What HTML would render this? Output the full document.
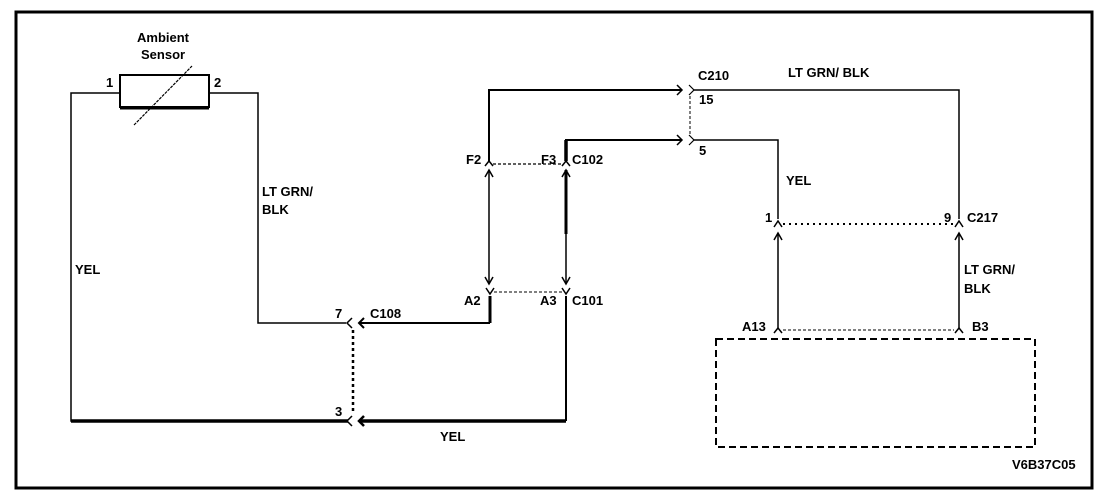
<!DOCTYPE html>
<html><head><meta charset="utf-8"><style>
html,body{margin:0;padding:0;background:#fff;}
svg{display:block;}
text{font-family:"Liberation Sans",sans-serif;font-weight:bold;font-size:13px;fill:#000;}
</style></head><body>
<svg width="1120" height="496" viewBox="0 0 1120 496" xmlns="http://www.w3.org/2000/svg">
<rect x="16" y="12" width="1076" height="476" fill="none" stroke="#000" stroke-width="3"/>
<!-- sensor -->
<rect x="120" y="75" width="89" height="32" fill="none" stroke="#000" stroke-width="2"/>
<line x1="120" y1="108" x2="209" y2="108" stroke="#000" stroke-width="3"/>
<line x1="134" y1="125" x2="192" y2="66" stroke="#000" stroke-width="1.2" stroke-dasharray="3,1"/>
<text x="137" y="42" font-size="12">Ambient</text>
<text x="141" y="59" font-size="12">Sensor</text>
<text x="106" y="87">1</text><text x="214" y="87">2</text>
<!-- wires left -->
<polyline points="120,93 71,93 71,421 348,421" fill="none" stroke="#000" stroke-width="1.5"/>
<line x1="71" y1="421" x2="348" y2="421" stroke="#000" stroke-width="3.5"/>
<polyline points="209,93 258,93 258,323 346,323" fill="none" stroke="#000" stroke-width="1.5"/>
<text x="75" y="274">YEL</text>
<text x="262" y="196">LT GRN/</text><text x="262" y="214">BLK</text>
<!-- C108 -->
<path d="M352,318 L347,323 L352,328" fill="none" stroke="#000" stroke-width="1.5"/>
<path d="M364,318 L359,323 L364,328" fill="none" stroke="#000" stroke-width="2"/>
<line x1="359" y1="323" x2="490" y2="323" stroke="#000" stroke-width="2"/>
<text x="335" y="318">7</text><text x="370" y="318">C108</text>
<line x1="353" y1="330" x2="353" y2="414" stroke="#000" stroke-width="2.5" stroke-dasharray="3,3"/>
<path d="M352,416 L347,421 L352,426" fill="none" stroke="#000" stroke-width="1.5"/>
<path d="M364,416 L359,421 L364,426" fill="none" stroke="#000" stroke-width="2.5"/>
<line x1="359" y1="421" x2="566" y2="421" stroke="#000" stroke-width="3.5"/>
<text x="335" y="416">3</text><text x="440" y="441">YEL</text>
<!-- A2/A3 -->
<line x1="490" y1="296" x2="490" y2="323" stroke="#000" stroke-width="3"/>
<line x1="566" y1="296" x2="566" y2="421" stroke="#000" stroke-width="2"/>
<path d="M486,288 L490,294 L494,288" fill="none" stroke="#000" stroke-width="1.5"/>
<path d="M562,288 L566,294 L570,288" fill="none" stroke="#000" stroke-width="1.5"/>
<line x1="494" y1="292" x2="562" y2="292" stroke="#000" stroke-width="1" stroke-dasharray="3,2"/>
<text x="464" y="305">A2</text><text x="540" y="305">A3</text><text x="572" y="305">C101</text>
<!-- vertical double arrows -->
<line x1="489" y1="170" x2="489" y2="284" stroke="#000" stroke-width="1.5"/>
<path d="M485,177 L489,170 L493,177" fill="none" stroke="#000" stroke-width="1.5"/>
<path d="M485,277 L489,284 L493,277" fill="none" stroke="#000" stroke-width="1.5"/>
<line x1="566" y1="170" x2="566" y2="284" stroke="#000" stroke-width="1.5"/>
<line x1="566" y1="170" x2="566" y2="234" stroke="#000" stroke-width="3"/>
<path d="M562,177 L566,170 L570,177" fill="none" stroke="#000" stroke-width="1.5"/>
<path d="M562,277 L566,284 L570,277" fill="none" stroke="#000" stroke-width="1.5"/>
<!-- F2/F3 -->
<path d="M485,166 L489,161 L493,166" fill="none" stroke="#000" stroke-width="1.5"/>
<path d="M562,166 L566,161 L570,166" fill="none" stroke="#000" stroke-width="1.5"/>
<line x1="493" y1="164" x2="562" y2="164" stroke="#000" stroke-width="1.2" stroke-dasharray="3,2"/>
<text x="466" y="164">F2</text><text x="541" y="164">F3</text><text x="572" y="164">C102</text>
<polyline points="489,161 489,90 681,90" fill="none" stroke="#000" stroke-width="2"/>
<polyline points="566,161 566,140 681,140" fill="none" stroke="#000" stroke-width="2"/>
<line x1="566" y1="140" x2="566" y2="161" stroke="#000" stroke-width="3.5"/>
<path d="M677,85 L682,90 L677,95" fill="none" stroke="#000" stroke-width="1.5"/>
<path d="M677,135 L682,140 L677,145" fill="none" stroke="#000" stroke-width="1.5"/>
<path d="M689,85 L694,90 L689,95" fill="none" stroke="#000" stroke-width="1.2"/>
<path d="M689,135 L694,140 L689,145" fill="none" stroke="#000" stroke-width="1.2"/>
<line x1="690" y1="96" x2="690" y2="134" stroke="#000" stroke-width="1" stroke-dasharray="3,2"/>
<text x="698" y="80" font-weight="normal">C210</text><text x="699" y="104">15</text><text x="699" y="155">5</text>
<!-- right wires -->
<polyline points="694,90 959,90 959,219" fill="none" stroke="#000" stroke-width="1.5"/>
<polyline points="694,140 778,140 778,219" fill="none" stroke="#000" stroke-width="1.5"/>
<text x="788" y="77">LT GRN/ BLK</text>
<text x="786" y="185">YEL</text>
<!-- C217 -->
<path d="M774,227 L778,221 L782,227" fill="none" stroke="#000" stroke-width="1.5"/>
<path d="M955,227 L959,221 L963,227" fill="none" stroke="#000" stroke-width="1.5"/>
<line x1="783" y1="224" x2="954" y2="224" stroke="#000" stroke-width="2" stroke-dasharray="2,4"/>
<text x="765" y="222">1</text><text x="944" y="222">9</text><text x="967" y="222" font-weight="normal">C217</text>
<line x1="778" y1="233" x2="778" y2="329" stroke="#000" stroke-width="1.5"/>
<path d="M774,240 L778,233 L782,240" fill="none" stroke="#000" stroke-width="1.5"/>
<line x1="959" y1="233" x2="959" y2="329" stroke="#000" stroke-width="1.5"/>
<path d="M955,240 L959,233 L963,240" fill="none" stroke="#000" stroke-width="1.5"/>
<text x="964" y="274">LT GRN/</text><text x="964" y="293">BLK</text>
<!-- A13/B3 -->
<path d="M774,333 L778,328 L782,333" fill="none" stroke="#000" stroke-width="1.5"/>
<path d="M955,333 L959,328 L963,333" fill="none" stroke="#000" stroke-width="1.5"/>
<line x1="783" y1="330" x2="954" y2="330" stroke="#000" stroke-width="1" stroke-dasharray="3,2"/>
<text x="742" y="331">A13</text><text x="972" y="331">B3</text>
<rect x="716" y="339" width="319" height="108" fill="none" stroke="#000" stroke-width="2" stroke-dasharray="7,4"/>
<text x="1012" y="469" font-size="9" font-weight="normal">V6B37C05</text>
</svg>
</body></html>
